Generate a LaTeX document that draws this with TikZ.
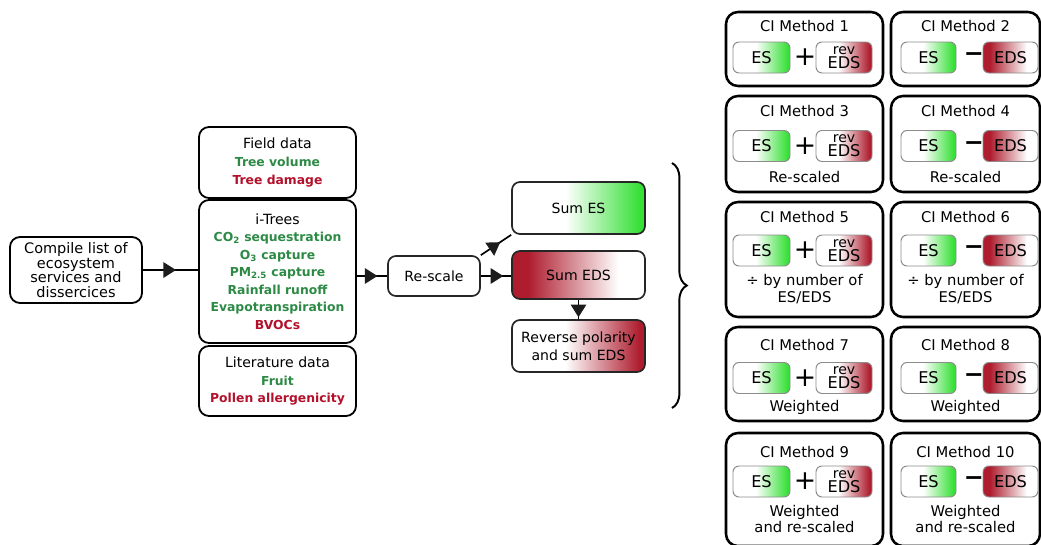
\documentclass[tikz,border=0pt]{standalone}
\usepackage{fontspec}
\setmainfont{DejaVu Sans}
\usetikzlibrary{arrows.meta,decorations.markings,decorations.pathreplacing}

\definecolor{esGreen}{HTML}{36E036}
\definecolor{edsRed}{HTML}{AE1C2E}
\definecolor{txtGreen}{HTML}{2C8A45}
\definecolor{txtRed}{HTML}{B3102B}
\definecolor{tipDark}{HTML}{1C1C1C}

\pgfdeclarehorizontalshading{esfade}{100bp}{color(0bp)=(white); color(45bp)=(white); color(73bp)=(esGreen); color(100bp)=(esGreen)}
\pgfdeclarehorizontalshading{revfade}{100bp}{color(0bp)=(white); color(45bp)=(white); color(73bp)=(edsRed); color(100bp)=(edsRed)}
\pgfdeclarehorizontalshading{edsfade}{100bp}{color(0bp)=(edsRed); color(31bp)=(edsRed); color(65bp)=(white); color(100bp)=(white)}

\newcommand{\esitem}[1]{{\fontsize{8.8}{12.5}\selectfont\bfseries\color{txtGreen}#1}}
\newcommand{\edsitem}[1]{{\fontsize{8.8}{12.5}\selectfont\bfseries\color{txtRed}#1}}

\tikzset{
  roundbox/.style={draw=black, line width=1.3pt, rounded corners=0.25cm, align=center, fill=white},
  databox/.style={roundbox, minimum width=3.925cm, font=\fontsize{10}{12.5}\selectfont},
  flowbox/.style={draw=black!85, line width=1.2pt, rounded corners=0.2cm, align=center, minimum width=3.325cm, font=\fontsize{10}{12.5}\selectfont},
  panel/.style={draw=black, line width=1.8pt, rounded corners=0.3cm},
  paneltext/.style={align=center, font=\fontsize{10.5}{12}\selectfont},
  smallbox/.style={draw=black!45, line width=0.7pt, rounded corners=0.15cm, minimum height=0.775cm, inner sep=0pt, align=center, font=\fontsize{11.5}{10}\selectfont},
  link/.style={draw=black, line width=1.2pt},
  midarrow/.style={postaction={decorate}, decoration={markings, mark=at position #1 with {\arrow[tipDark]{Triangle[width=11pt,length=9pt]}}}},
  groupbrace/.style={decorate, decoration={brace, amplitude=10.5pt}, line width=1.4pt}
}

\begin{document}
\begin{tikzpicture}[>=Stealth]
\useasboundingbox (0,0) rectangle (26.025,-13.625);
% sources of the indicators
\node[roundbox, minimum width=3.3cm, minimum height=1.65cm, font=\fontsize{10.3}{10.4}\selectfont] (compile) at (1.9,-6.75) {Compile list of\\ecosystem\\services and\\dissercices};
\node[databox, minimum height=1.775cm] (field) at (6.9375,-4.0625) {Field data\\\esitem{Tree volume}\\\edsitem{Tree damage}};
\node[databox, minimum height=3.575cm] (itrees) at (6.9375,-6.7875) {i-Trees\\\esitem{CO\textsubscript{2} sequestration}\\\esitem{O\textsubscript{3} capture}\\\esitem{PM\textsubscript{2.5} capture}\\\esitem{Rainfall runoff}\\\esitem{Evapotranspiration}\\\edsitem{BVOCs}};
\node[databox, minimum height=1.75cm] (lit) at (6.9375,-9.525) {Literature data\\\esitem{Fruit}\\\edsitem{Pollen allergenicity}};
% rescaling and sums
\node[flowbox, minimum width=2.3cm, minimum height=1cm] (rescale) at (10.85,-6.9) {Re-scale};
\node[flowbox, minimum height=1.3cm, shading=esfade] (sumes) at (14.4625,-5.2) {Sum ES};
\node[flowbox, minimum height=1.2cm, shading=edsfade] (sumeds) at (14.4625,-6.875) {Sum EDS};
\node[flowbox, minimum height=1.3cm, shading=revfade] (reverse) at (14.4625,-8.65) {Reverse polarity\\and sum EDS};
\draw[link, midarrow=0.6] (compile.east) -- (compile.east -| itrees.west);
\draw[link, midarrow=0.68] (rescale.west -| itrees.east) -- (rescale.west);
\draw[link, midarrow=0.64] (rescale.north east) -- (sumes.south west);
\draw[link, midarrow=0.74] (rescale.east) -- (rescale.east -| sumeds.west);
\draw[link, midarrow=0.9] (sumeds.south) -- (reverse.north);
% brace towards the methods
\coordinate (braceTop) at (16.8,-4.075);
\coordinate (braceBot) at (16.8,-10.2);
\draw[groupbrace] (braceTop) -- (braceBot);
% CI methods, two per row
\foreach \r/\yc/\h/\yt/\yi/\ys/\sub in {
  1/-1.225/1.85/-0.65/-1.4375/0/{},
  2/-3.6/2.4/-2.775/-3.65/-4.425/{Re-scaled},
  3/-6.4875/2.875/-5.425/-6.2625/-7.225/{÷ by number of\\ES/EDS},
  4/-9.35/2.35/-8.625/-9.45/-10.175/{Weighted},
  5/-12.2375/2.825/-11.3/-12.0375/-12.975/{Weighted\\and re-scaled}}
{
  \pgfmathtruncatemacro{\na}{2*\r-1}
  \pgfmathtruncatemacro{\nb}{2*\r}
  % left: ES + rev EDS
  \node[panel, minimum width=3.925cm, minimum height=\h cm] (ci\na) at (20.1125,\yc) {};
  \node[paneltext] (ci\na-title) at (20.1125,\yt) {CI Method \na};
  \node[smallbox, shading=esfade, minimum width=1.425cm] (ci\na-es) at (19.0375,\yi) {ES};
  \node[font=\fontsize{19}{19}\selectfont, inner sep=0pt] (ci\na-op) at (20.125,\yi) {+};
  \node[smallbox, shading=revfade, minimum width=1.4cm] (ci\na-eds) at (21.1,\yi) {{\fontsize{10}{10}\selectfont rev}\\EDS};
  % right: ES - EDS
  \node[panel, minimum width=3.725cm, minimum height=\h cm] (ci\nb) at (24.1375,\yc) {};
  \node[paneltext] (ci\nb-title) at (24.1375,\yt) {CI Method \nb};
  \node[smallbox, shading=esfade, minimum width=1.375cm] (ci\nb-es) at (23.2125,\yi) {ES};
  \node[font=\fontsize{17}{17}\selectfont\bfseries, inner sep=0pt] (ci\nb-op) at (24.35,\yi) {−};
  \node[smallbox, shading=edsfade, minimum width=1.375cm] (ci\nb-eds) at (25.2625,\yi) {EDS};
  \ifnum\r>1
    \node[paneltext] (ci\na-sub) at (20.1125,\ys) {\sub};
    \node[paneltext] (ci\nb-sub) at (24.1375,\ys) {\sub};
  \fi
}
\end{tikzpicture}
\end{document}
